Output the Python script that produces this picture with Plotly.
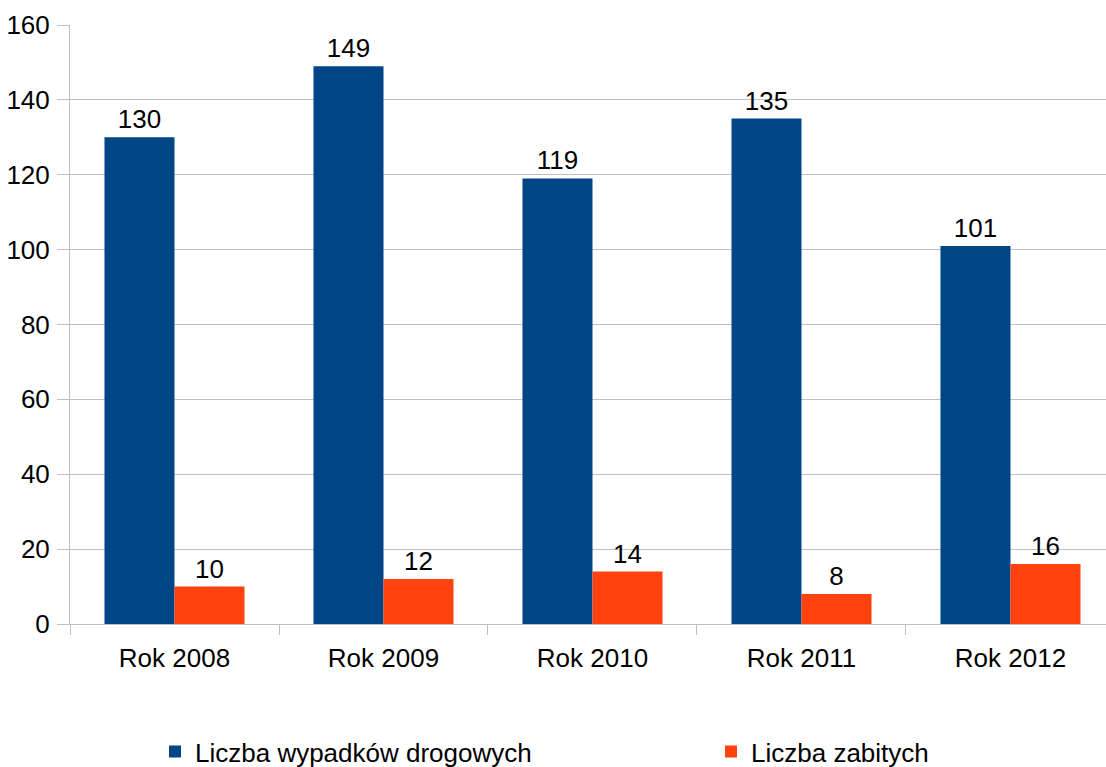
import plotly.graph_objects as go

years = ["Rok 2008", "Rok 2009", "Rok 2010", "Rok 2011", "Rok 2012"]
accidents = [130, 149, 119, 135, 101]
killed = [10, 12, 14, 8, 16]
y_ticks = [0, 20, 40, 60, 80, 100, 120, 140, 160]

BLUE = "#004586"
ORANGE = "#ff420e"
GRID = "#c0c0c0"
FONT = "Liberation Sans, Arial, sans-serif"
FS = 26

fig = go.Figure()

fig.add_trace(go.Bar(
    x=years, y=accidents,
    name="Liczba wypadków drogowych",
    marker=dict(color=BLUE, line=dict(width=0)),
    text=accidents, textposition="outside",
    textfont=dict(size=FS, color="black", family=FONT),
    cliponaxis=False,
    legend="legend",
))
fig.add_trace(go.Bar(
    x=years, y=killed,
    name="Liczba zabitych",
    marker=dict(color=ORANGE, line=dict(width=0)),
    text=killed, textposition="outside",
    textfont=dict(size=FS, color="black", family=FONT),
    cliponaxis=False,
    legend="legend2",
))

legend_style = dict(
    xref="container", yref="container",
    y=0.02, xanchor="left", yanchor="middle",
    font=dict(size=FS, family=FONT, color="black"),
    itemclick=False, bgcolor="rgba(0,0,0,0)",
)

fig.update_layout(
    width=1106, height=767,
    barmode="group",
    bargap=0.33, bargroupgap=0,
    plot_bgcolor="white", paper_bgcolor="white",
    font=dict(family=FONT, size=FS, color="black"),
    margin=dict(l=70, r=0, t=25, b=143, autoexpand=False),
    showlegend=True,
    legend=dict(x=155 / 1106, **legend_style),
    legend2=dict(x=711 / 1106, **legend_style),
)

fig.update_xaxes(
    range=[-0.5, 4.457],
    automargin=False,
    showline=True, linecolor=GRID, linewidth=1,
    ticks="outside", tickson="boundaries", ticklen=10,
    tickcolor=GRID, tickwidth=1,
    showgrid=False,
    ticklabelstandoff=11,
    tickfont=dict(size=FS, family=FONT),
)
fig.update_yaxes(
    range=[0, 160],
    automargin=False,
    tickvals=y_ticks,
    showline=True, linecolor=GRID, linewidth=1,
    ticks="outside", ticklen=12, tickcolor=GRID, tickwidth=1,
    showgrid=True, gridcolor=GRID, gridwidth=1,
    zeroline=False,
    ticklabelstandoff=2,
    tickfont=dict(size=FS, family=FONT),
)

# remove the default page margin so the figure sits at the window's corner
fig.write_html(
    "out.html",
    config={"displayModeBar": False},
    post_script="document.body.style.margin='0';",
)
